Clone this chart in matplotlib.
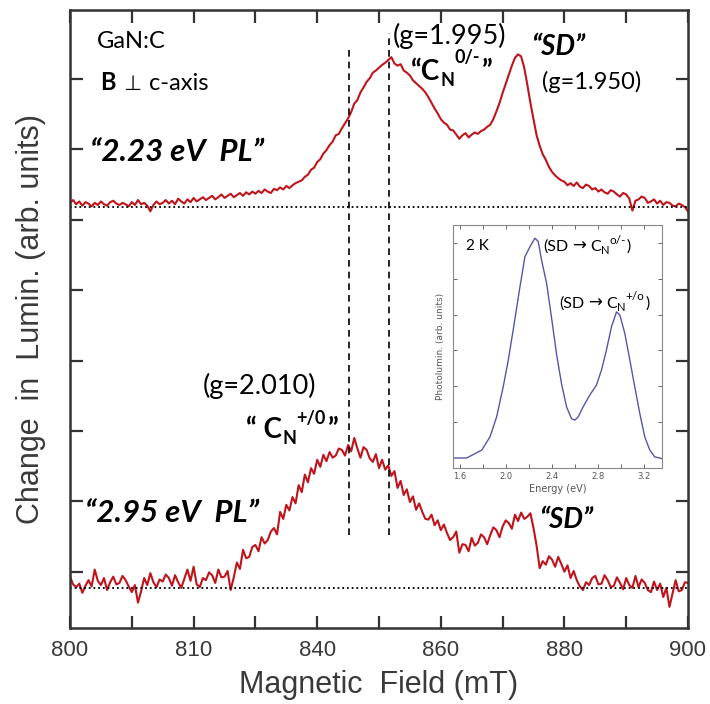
import matplotlib
matplotlib.use("Agg")
import matplotlib.pyplot as plt
import numpy as np

# ---------------- data ----------------
field = np.arange(800, 900.5, 0.5)  # magnetic field grid (mT), 0.5 mT steps

# "2.23 eV PL" trace (change relative to its own baseline), 10 values per 5 mT
pl_223 = [0.06, 0.10, 0.04, 0.08, 0.02, 0.07, 0.05, 0.01, 0.06, 0.03,
          0.08, 0.04, 0.02, 0.07, 0.09, 0.05, 0.03, 0.06, 0.04, 0.01,
          0.07, 0.03, 0.10, 0.04, 0.06, 0.02, -0.06, 0.03, 0.08, 0.04,
          0.06, 0.10, 0.05, 0.09, 0.04, 0.12, 0.08, 0.05, 0.11, 0.07,
          0.13, 0.08, 0.11, 0.14, 0.10, 0.13, 0.16, 0.11, 0.14, 0.18,
          0.13, 0.16, 0.19, 0.14, 0.17, 0.20, 0.16, 0.21, 0.18, 0.22,
          0.19, 0.23, 0.20, 0.25, 0.22, 0.20, 0.26, 0.24, 0.28, 0.25,
          0.30, 0.27, 0.31, 0.34, 0.36, 0.38, 0.43, 0.46, 0.53, 0.56,
          0.64, 0.68, 0.76, 0.81, 0.88, 0.93, 1.02, 1.04, 1.12, 1.19,
          1.26, 1.35, 1.47, 1.52, 1.63, 1.70, 1.78, 1.83, 1.91, 1.94,
          1.98, 2.02, 2.05, 2.09, 2.13, 2.04, 2.01, 2.03, 1.94, 1.91,
          1.87, 1.80, 1.76, 1.72, 1.68, 1.63, 1.56, 1.48, 1.40, 1.33,
          1.25, 1.20, 1.17, 1.10, 1.09, 1.03, 0.97, 1.02, 1.05, 0.99,
          1.03, 1.06, 1.04, 1.08, 1.10, 1.14, 1.17, 1.25, 1.36, 1.48,
          1.62, 1.75, 1.88, 2.01, 2.12, 2.17, 2.14, 1.98, 1.74, 1.48,
          1.25, 1.02, 0.87, 0.75, 0.67, 0.57, 0.50, 0.45, 0.41, 0.38,
          0.36, 0.31, 0.34, 0.30, 0.35, 0.29, 0.27, 0.32, 0.30, 0.25,
          0.27, 0.22, 0.25, 0.21, 0.19, 0.24, 0.22, 0.18, 0.15, 0.20,
          0.18, 0.12, -0.05, 0.09, 0.11, 0.15, 0.13, 0.06, 0.08, 0.11,
          0.05, 0.09, 0.03, 0.07, 0.06, 0.02, 0.01, 0.05, 0.03, 0.00,
          -0.06]

# "2.95 eV PL" trace (change relative to its own baseline)
pl_295 = [0.16, 0.05, 0.01, 0.06, -0.07, 0.03, 0.11, 0.02, 0.26, 0.10,
          0.04, 0.14, -0.03, 0.08, 0.16, 0.05, 0.07, 0.17, 0.11, 0.02,
          -0.06, 0.04, -0.21, -0.05, 0.14, 0.04, 0.21, 0.08, 0.01, 0.12,
          0.09, 0.19, 0.14, 0.03, 0.18, 0.08, 0.00, 0.13, 0.26, 0.10,
          0.30, 0.05, 0.01, 0.14, 0.11, 0.22, 0.18, 0.07, 0.26, 0.15,
          0.16, 0.24, -0.03, 0.15, 0.36, 0.27, 0.54, 0.42, 0.44, 0.58,
          0.61, 0.52, 0.72, 0.63, 0.68, 0.80, 0.85, 0.76, 1.08, 0.98,
          1.18, 1.10, 1.29, 1.20, 1.46, 1.36, 1.61, 1.50, 1.70, 1.62,
          1.82, 1.72, 1.89, 1.80, 1.93, 1.85, 1.88, 1.98, 1.96, 1.88,
          2.03, 1.94, 2.13, 1.98, 1.85, 2.00, 1.96, 1.84, 1.79, 1.90,
          1.70, 1.82, 1.68, 1.74, 1.59, 1.66, 1.42, 1.52, 1.32, 1.40,
          1.22, 1.30, 1.11, 1.20, 1.08, 0.98, 0.97, 1.04, 0.89, 0.96,
          0.82, 0.90, 0.78, 0.68, 0.72, 0.80, 0.50, 0.62, 0.61, 0.52,
          0.71, 0.60, 0.64, 0.76, 0.72, 0.62, 0.75, 0.86, 0.82, 0.72,
          0.87, 0.96, 0.92, 0.84, 1.04, 0.95, 1.07, 0.98, 1.01, 1.06,
          0.85, 0.60, 0.28, 0.38, 0.33, 0.45, 0.40, 0.30, 0.44, 0.34,
          0.23, 0.32, 0.14, 0.24, 0.11, 0.02, -0.03, 0.08, 0.04, 0.14,
          0.17, 0.05, 0.06, 0.18, 0.11, 0.01, 0.03, 0.15, 0.07, -0.02,
          0.14, 0.04, 0.00, 0.17, 0.01, 0.12, 0.07, -0.03, -0.06, 0.09,
          -0.03, 0.06, -0.13, 0.00, -0.27, -0.08, 0.11, -0.05, -0.03, 0.08,
          0.07]

base_223 = 5.98   # baseline level of upper trace
base_295 = 0.57   # baseline level of lower trace

g_fields = [845.1, 851.6]          # vertical dashed markers (mT)
g_line_bottom = [1.32, 1.32]
g_line_top = [8.24, 8.45]

xtick_pos = list(range(800, 901, 10))
xtick_lab = ['800', '', '810', '', '840', '', '860', '', '880', '', '900']
ytick_pos = [0.8 + k for k in range(8)]

# inset: PL spectrum at 2 K
energy = [1.543, 1.659, 1.79, 1.862, 1.92, 1.977, 2.021, 2.064, 2.123, 2.166,
          2.21, 2.253, 2.282, 2.311, 2.355, 2.398, 2.442, 2.485, 2.529, 2.572,
          2.601, 2.63, 2.673, 2.731, 2.789, 2.833, 2.876, 2.92, 2.964, 2.993,
          3.036, 3.08, 3.123, 3.167, 3.21, 3.254, 3.297, 3.34, 3.36]
photolum = [0.28, 0.28, 0.50, 0.87, 1.43, 2.27, 3.01, 3.86, 5.07, 5.91,
            6.19, 6.43, 6.34, 5.82, 5.17, 4.21, 3.18, 2.36, 1.71, 1.38,
            1.34, 1.43, 1.71, 2.04, 2.32, 2.74, 3.30, 3.95, 4.37, 4.28,
            3.77, 3.02, 2.27, 1.52, 0.87, 0.50, 0.31, 0.28, 0.26]
inset_xticks = [1.6, 2.0, 2.4, 2.8, 3.2]
inset_xminor = [1.8, 2.2, 2.6, 3.0]
inset_yticks = [1.29 + k for k in range(6)]

# ---------------- figure ----------------
W, H = 710, 704
fig = plt.figure(figsize=(W / 100, H / 100), dpi=100)
fig.patch.set_facecolor('white')


def fx(px):
    return px / W


def fy(py):
    return 1 - py / H


ax = fig.add_axes([fx(70), fy(628), fx(688) - fx(70), fy(10) - fy(628)])
red = '#c0141c'
spine_col = '#333333'
txt_col = '#3a3a3a'

ax.plot(field, base_223 + np.array(pl_223), color=red, lw=1.5)
ax.plot(field, base_295 + np.array(pl_295), color=red, lw=1.5)
ax.axhline(base_223, color='black', lw=1.3, ls=(0, (1, 1.6)))
ax.axhline(base_295, color='black', lw=1.3, ls=(0, (1, 1.6)))
ax.vlines(g_fields, g_line_bottom, g_line_top, color='black', lw=1.2,
          linestyles=[(0, (4, 3))])

ax.set_xlim(800, 900)
ax.set_ylim(0, 8.78)
ax.set_xticks(xtick_pos)
ax.set_xticklabels(xtick_lab, fontfamily='Liberation Sans')
ax.set_yticks(ytick_pos)
ax.set_yticklabels([])
ax.tick_params(direction='in', length=9, width=1.6, top=True, right=True,
               labelsize=16, labelcolor=txt_col, color=spine_col, pad=9)
for s in ax.spines.values():
    s.set_linewidth(1.8)
    s.set_color(spine_col)

ax.set_xlabel('Magnetic  Field (mT)', fontsize=22, color=txt_col,
              fontfamily='Liberation Sans', labelpad=6)
ax.set_ylabel('Change  in  Lumin. (arb. units)', fontsize=22, color=txt_col,
              fontfamily='Liberation Sans', labelpad=8)

LATO = ['Lato', 'DejaVu Sans']
DJV = ['DejaVu Sans']
renderer = fig.canvas.get_renderer()


def t(px, py, s, size, weight='normal', style='normal'):
    fig.text(fx(px), fy(py), s, fontsize=size, fontweight=weight,
             fontstyle=style, ha='left', va='center', family=LATO, color='black')


def chain(px, pieces):
    """pieces: (text, size, weight, style, baseline_py, family, gap_px)"""
    x = px
    for s, size, weight, style, base, fam, gap in pieces:
        tx = fig.text(fx(x), fy(base), s, fontsize=size, fontweight=weight,
                      fontstyle=style, ha='left', va='baseline', family=fam,
                      color='black')
        x += tx.get_window_extent(renderer=renderer).width + gap


t(97, 42, 'GaN:C', 17)
chain(100, [('B', 17, 'bold', 'normal', 90, LATO, 8),
            ('⊥', 15, 'normal', 'normal', 90, DJV, 7),
            ('c-axis', 17, 'normal', 'normal', 90, LATO, 0)])
t(90, 152, '“2.23 eV  PL”', 22.5, weight='bold', style='italic')
t(393, 36, '(g=1.995)', 19.5)
chain(411, [('“C', 20, 'bold', 'normal', 80, LATO, 0),
            ('N', 13, 'bold', 'normal', 86, LATO, 0),
            ('0/-', 13, 'bold', 'normal', 63, LATO, 2),
            ('”', 20, 'bold', 'normal', 80, LATO, 0)])
t(531, 47, '“SD”', 20, weight='bold', style='italic')
t(542, 82, '(g=1.950)', 17)
t(203, 386, '(g=2.010)', 19.5)
chain(246, [('“ C', 20, 'bold', 'normal', 438, LATO, 0),
            ('N', 13, 'bold', 'normal', 444, LATO, 0),
            ('+/0', 13, 'bold', 'normal', 424, LATO, 2),
            ('”', 20, 'bold', 'normal', 438, LATO, 0)])
t(85, 513, '“2.95 eV  PL”', 22.5, weight='bold', style='italic')
t(539, 520, '“SD”', 20, weight='bold', style='italic')

# ---------------- inset ----------------
ins = fig.add_axes([fx(453), fy(468), fx(662) - fx(453), fy(225) - fy(468)])
ins.plot(energy, photolum, color='#5656a8', lw=1.0)
ins.set_xlim(1.54, 3.36)
ins.set_ylim(0, 6.8)
ins.set_xticks(inset_xticks)
ins.set_xticks(inset_xminor, minor=True)
ins.set_yticks(inset_yticks)
ins.set_yticklabels([])
ins.tick_params(which='both', direction='in', length=3, width=0.7, top=True,
                right=True, labelsize=6, labelcolor='#555555', color='#666666', pad=3)
for s in ins.spines.values():
    s.set_linewidth(0.8)
    s.set_color('#888888')
ins.set_xlabel('Energy (eV)', fontsize=7, color='#555555', labelpad=2)
ins.set_ylabel('Photolumin. (arb. units)', fontsize=6.5, color='#555555', labelpad=3)

t(466, 246, '2 K', 11)
chain(543, [('(SD', 11.5, 'normal', 'normal', 251, LATO, 4),
            ('→', 12, 'normal', 'normal', 251, DJV, 4),
            ('C', 11.5, 'normal', 'normal', 251, LATO, 0),
            ('N', 8, 'normal', 'normal', 254, LATO, 0),
            ('o/-', 8.5, 'normal', 'normal', 244, LATO, 1),
            (')', 11.5, 'normal', 'normal', 251, LATO, 0)])
chain(559, [('(SD', 11.5, 'normal', 'normal', 308, LATO, 4),
            ('→', 12, 'normal', 'normal', 308, DJV, 4),
            ('C', 11.5, 'normal', 'normal', 308, LATO, 0),
            ('N', 8, 'normal', 'normal', 311, LATO, 0),
            ('+/o', 8.5, 'normal', 'normal', 300, LATO, 1),
            (')', 11.5, 'normal', 'normal', 308, LATO, 0)])

fig.savefig('out.png', dpi=100)
